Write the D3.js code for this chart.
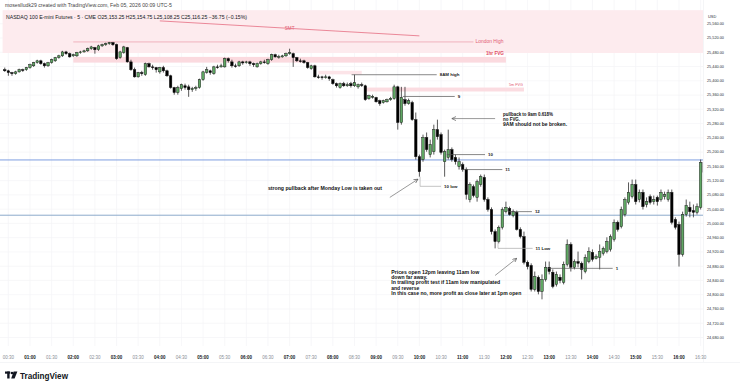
<!DOCTYPE html>
<html>
<head>
<meta charset="utf-8">
<script src="https://cdn.jsdelivr.net/npm/d3@7"></script>
<style>
  html, body { margin: 0; padding: 0; background: #fff; }
  svg { display: block; font-family: "Liberation Sans", Arial, sans-serif; }
</style>
</head>
<body>
<svg id="chart" width="740" height="386"></svg>
<script>
// NQ 5 minute bars, first bar opens 00:25
var firstBar = "00:25";
var barMinutes = 5;

var opens = [25431,25428,25423,25420,25425,25431,25431,25437,25442,25451,25456,25448,25442,25451,25456,25465,25470,25481,25476,25470,
  25470,25479,25481,25484,25490,25493,25487,25498,25501,25504,25507,25501,25465,25479,25493,25453,25431,25411,25423,25417,
  25448,25439,25437,25425,25437,25428,25414,25381,25367,25378,25386,25383,25375,25378,25381,25403,25423,25428,25420,25439,
  25439,25439,25462,25453,25442,25442,25453,25451,25453,25448,25439,25448,25453,25448,25459,25473,25467,25467,25470,25476,
  25476,25465,25456,25456,25451,25434,25442,25411,25411,25409,25411,25403,25392,25381,25392,25386,25392,25386,25383,25389,
  25386,25350,25355,25353,25344,25339,25341,25347,25350,25383,25283,25347,25336,25339,25291,25187,25179,25241,25193,25201,
  25263,25249,25173,25185,25207,25185,25159,25165,25151,25067,25103,25073,25109,25129,25067,25039,24977,24949,24989,25033,
  25042,25022,25031,24983,24963,24891,24882,24815,24849,24809,24843,24877,24863,24829,24849,24835,24885,24941,24877,24893,
  24888,24865,24893,24919,24902,24905,24916,24921,24927,24955,25003,24991,25025,25059,25075,25109,25067,25087,25053,25075,
  25061,25073,25067,25075,25067,25087,25011,24997,24913,25025,25045,25036,25031,25045,25171];
var highs = [25437,25431,25425,25428,25434,25434,25439,25448,25453,25459,25459,25451,25453,25462,25467,25473,25484,25484,25479,25476,
  25481,25484,25487,25493,25498,25495,25501,25504,25507,25509,25509,25504,25484,25498,25495,25459,25437,25425,25428,25451,
  25451,25445,25439,25439,25442,25431,25417,25383,25386,25392,25392,25389,25383,25386,25406,25428,25439,25431,25442,25445,
  25448,25465,25465,25459,25448,25456,25456,25456,25456,25451,25451,25456,25459,25462,25476,25476,25473,25473,25479,25490,
  25479,25467,25462,25459,25453,25445,25445,25417,25414,25417,25414,25406,25395,25395,25397,25395,25397,25417,25392,25395,
  25389,25361,25361,25355,25347,25347,25350,25355,25389,25386,25383,25383,25350,25344,25311,25193,25249,25255,25235,25277,
  25291,25255,25207,25263,25213,25193,25185,25171,25157,25115,25109,25123,25137,25137,25073,25045,24983,24994,25045,25061,
  25047,25039,25036,24989,24977,24896,24888,24865,24854,24857,24893,24893,24871,24865,24857,24893,24955,24947,24899,24921,
  24893,24913,24933,24927,24913,24941,24935,24961,24969,25011,25008,25047,25073,25115,25123,25123,25095,25095,25073,25081,
  25078,25078,25095,25089,25095,25095,25017,25005,25033,25067,25061,25053,25056,25179,25179];
var lows = [25425,25414,25414,25417,25423,25425,25428,25434,25439,25448,25445,25437,25439,25448,25453,25462,25467,25473,25465,25467,
  25467,25476,25479,25481,25487,25476,25484,25495,25498,25501,25498,25459,25462,25476,25451,25428,25409,25409,25414,25414,
  25437,25431,25423,25420,25423,25411,25378,25361,25361,25372,25375,25355,25369,25372,25378,25400,25420,25417,25417,25434,
  25437,25437,25451,25437,25437,25439,25445,25448,25442,25439,25437,25445,25448,25445,25456,25465,25462,25465,25467,25473,
  25439,25453,25451,25448,25434,25431,25409,25406,25403,25406,25400,25389,25381,25378,25383,25383,25381,25383,25378,25383,
  25344,25347,25350,25339,25330,25336,25339,25344,25347,25263,25277,25330,25333,25288,25179,25131,25173,25201,25185,25193,
  25235,25193,25131,25179,25173,25165,25151,25145,25067,25059,25073,25061,25103,25061,25033,24969,24930,24944,24983,25028,
  25022,25017,24980,24958,24885,24871,24809,24809,24801,24787,24837,24857,24818,24823,24832,24829,24879,24865,24871,24877,
  24843,24860,24888,24893,24899,24871,24910,24916,24921,24949,24977,24986,25019,25053,25070,25053,25059,25039,25045,25053,
  25053,25050,25061,25067,25061,24997,24983,24879,24907,25019,25017,25017,25025,25039,25137];
var closes = [25428,25423,25420,25425,25431,25430,25437,25445,25451,25456,25448,25442,25451,25459,25465,25470,25481,25476,25467,25473,
  25479,25481,25484,25490,25495,25487,25498,25501,25504,25507,25501,25462,25481,25495,25453,25431,25411,25423,25420,25448,
  25439,25437,25431,25437,25428,25414,25381,25367,25381,25389,25381,25375,25378,25381,25403,25425,25431,25423,25439,25438,
  25442,25462,25456,25442,25441,25453,25450,25453,25448,25445,25448,25453,25452,25459,25473,25467,25468,25470,25476,25479,
  25465,25456,25455,25451,25437,25442,25411,25410,25409,25411,25406,25392,25386,25392,25386,25389,25386,25395,25389,25388,
  25347,25358,25356,25341,25336,25344,25347,25350,25383,25283,25353,25336,25344,25291,25187,25145,25241,25207,25221,25263,
  25243,25199,25201,25207,25179,25173,25173,25151,25081,25109,25078,25117,25131,25067,25039,24977,24949,24989,25039,25045,
  25025,25033,24983,24963,24891,24879,24815,24851,24809,24843,24877,24865,24823,24857,24840,24885,24941,24877,24893,24888,
  24871,24905,24921,24899,24907,24921,24930,24949,24963,25003,24983,25039,25067,25087,25109,25061,25087,25047,25061,25059,
  25067,25061,25087,25081,25087,25003,24989,24913,25025,25050,25033,25031,25047,25171,25143];

var timeTicks = ["00:30","01:00","01:30","02:00","02:30","03:00","03:30","04:00","04:30","05:00","05:30","06:00",
  "06:30","07:00","07:30","08:00","08:30","09:00","09:30","10:00","10:30","11:00","11:30","12:00","12:30","13:00",
  "13:30","14:00","14:30","15:00","15:30","16:00","16:30"];
var priceTicks = [24680,24720,24760,24800,24840,24880,24920,24960,25000,25040,25080,25120,25160,25200,25240,
  25280,25320,25360,25400,25440,25480,25520,25560];

// drawn zones (pink boxes)
var zones = [
  {from: "00:22", to: "17:00", top: 25598, bottom: 25478, fill: "#fdebee"},
  {from: "02:00", to: "12:00", top: 25467, bottom: 25451, fill: "#fbdadf"},
  {from: "07:40", to: "08:40", top: 25428, bottom: 25418, fill: "#fce4e8"},
  {from: "08:45", to: "12:25", top: 25381, bottom: 25370, fill: "#fbdce1"}
];
var hLines = [
  {price: 25178, color: "#6f94dd"},
  {price: 25023, color: "#7f9fc4"}
];
var levels = [
  {label: "8AM high", price: 25417, from: "08:26", to: "10:24", color: "#555"},
  {label: "9", price: 25356, from: "09:37", to: "10:49", color: "#555"},
  {label: "10", price: 25193, from: "10:38", to: "11:31", color: "#555"},
  {label: "11", price: 25151, from: "10:59", to: "11:55", color: "#555"},
  {label: "12", price: 25033, from: "12:03", to: "12:36", color: "#555"},
  {label: "1", price: 24874, from: "12:58", to: "14:28", color: "#555"},
  {label: "10 low", price: 25104, from: "10:01", to: "10:30", color: "#aaa", stem: 25131},
  {label: "11 Low", price: 24930, from: "11:49", to: "12:37", color: "#aaa", stem: 24949}
];
var arrows = [
  {from: ["09:19", 25073], to: ["09:58", 25124]},
  {from: ["11:45", 25294], to: ["10:45", 25294]},
  {from: ["11:45", 24854], to: ["12:15", 24902]}
];
var notes = [
  {at: ["06:30", 25098], lines: ["strong pullback after Monday Low is taken out"], widths: [114]},
  {at: ["11:56", 25307], lines: ["pullback to 9am 0.618%", "no FVG.", "9AM should not be broken."], widths: [50, 17, 64]},
  {at: ["09:21", 24862], lines: ["Prices open 12pm leaving 11am low", "down far away.",
    "In trailing profit test if 11am low manipulated", "and reverse",
    "In this case no, more profit as close later at 1pm open"], widths: [88, 36, 109, 28, 130]}
];

var W = 740, H = 386;
var plotRight = 703, plotBottom = 346;

function toMin(s) {
  var p = s.split(":");
  return +p[0] * 60 + +p[1];
}

var x = d3.scaleLinear().domain([60, 960]).range([30, 679]);
var y = d3.scaleLinear().domain([24680, 25520]).range([337.5, 38]);

var svg = d3.select("#chart");
svg.append("rect").attr("width", W).attr("height", H).attr("fill", "#fff");

var defs = svg.append("defs");
defs.append("clipPath").attr("id", "plotClip")
  .append("rect").attr("x", 0).attr("y", 0).attr("width", plotRight).attr("height", plotBottom);
defs.append("marker").attr("id", "head")
  .attr("viewBox", "0 0 6 6").attr("refX", 5.5).attr("refY", 3)
  .attr("markerWidth", 4.5).attr("markerHeight", 4.5)
  .attr("markerUnits", "userSpaceOnUse").attr("orient", "auto")
  .append("path").attr("d", "M0,0.3 L5.5,3 L0,5.7")
  .attr("fill", "none").attr("stroke", "#555").attr("stroke-width", 0.9);

var g = svg.append("g").attr("clip-path", "url(#plotClip)");

// grid
g.selectAll(".vgrid").data(timeTicks).enter().append("line")
  .attr("x1", function(d) { return x(toMin(d)); })
  .attr("x2", function(d) { return x(toMin(d)); })
  .attr("y1", 0).attr("y2", plotBottom)
  .attr("stroke", "#f3f4f6").attr("stroke-width", 0.7);
g.selectAll(".hgrid").data(priceTicks).enter().append("line")
  .attr("x1", 0).attr("x2", plotRight)
  .attr("y1", function(d) { return y(d); })
  .attr("y2", function(d) { return y(d); })
  .attr("stroke", "#f3f4f6").attr("stroke-width", 0.7);

// zones
g.selectAll(".zone").data(zones).enter().append("rect")
  .attr("x", function(d) { return x(toMin(d.from)); })
  .attr("width", function(d) { return x(toMin(d.to)) - x(toMin(d.from)); })
  .attr("y", function(d) { return y(d.top); })
  .attr("height", function(d) { return y(d.bottom) - y(d.top); })
  .attr("fill", function(d) { return d.fill; });

// london high + SMT
var pink = "#e25c73";
g.append("line")
  .attr("x1", x(toMin("02:00"))).attr("x2", x(toMin("11:15")))
  .attr("y1", y(25509)).attr("y2", y(25509))
  .attr("stroke", "#eb9aa7").attr("stroke-width", 0.7);
g.append("text").attr("x", x(toMin("11:15")) + 2).attr("y", y(25509) + 1.5)
  .attr("font-size", 4.6).attr("fill", pink).attr("textLength", 28).attr("lengthAdjust", "spacingAndGlyphs")
  .text("London High");
g.append("text").attr("x", x(toMin("12:00")) - 2).attr("y", y(25478) + 2.3)
  .attr("text-anchor", "end").attr("font-size", 4.8).attr("font-weight", "bold").attr("fill", "#de4a62")
  .attr("textLength", 18).attr("lengthAdjust", "spacingAndGlyphs")
  .text("1hr FVG");
g.append("text").attr("x", x(toMin("12:25")) - 1).attr("y", y(25381) - 1.3)
  .attr("text-anchor", "end").attr("font-size", 3.6).attr("fill", pink)
  .attr("textLength", 14).attr("lengthAdjust", "spacingAndGlyphs")
  .text("5m FVG");
g.append("line")
  .attr("x1", x(toMin("04:00"))).attr("y1", y(25568))
  .attr("x2", x(toMin("10:00"))).attr("y2", y(25526))
  .attr("stroke", pink).attr("stroke-width", 0.7);
g.append("text").attr("x", x(toMin("07:00"))).attr("y", y(25547) + 1.8)
  .attr("text-anchor", "middle").attr("font-size", 4.6).attr("fill", pink)
  .text("SMT");

// blue horizontal lines
g.selectAll(".hline").data(hLines).enter().append("line")
  .attr("x1", 0).attr("x2", plotRight)
  .attr("y1", function(d) { return y(d.price); })
  .attr("y2", function(d) { return y(d.price); })
  .attr("stroke", function(d) { return d.color; }).attr("stroke-width", 0.9);

// candles
var bars = opens.map(function(o, i) {
  return {t: toMin(firstBar) + i * barMinutes, o: o, h: highs[i], l: lows[i], c: closes[i]};
});
var bodyW = 2.5;
var candle = g.selectAll(".candle").data(bars).enter().append("g");
candle.append("line")
  .attr("x1", function(d) { return x(d.t); })
  .attr("x2", function(d) { return x(d.t); })
  .attr("y1", function(d) { return y(d.h); })
  .attr("y2", function(d) { return y(d.l); })
  .attr("stroke", "#111").attr("stroke-width", 0.7);
candle.append("rect")
  .attr("x", function(d) { return x(d.t) - bodyW / 2; })
  .attr("width", bodyW)
  .attr("y", function(d) { return y(Math.max(d.o, d.c)); })
  .attr("height", function(d) { return Math.max(0.8, Math.abs(y(d.o) - y(d.c))); })
  .attr("fill", function(d) { return d.c >= d.o ? "#5fa763" : "#000"; })
  .attr("stroke", "#111").attr("stroke-width", 0.45);

// level lines
var lv = g.selectAll(".level").data(levels).enter().append("g");
lv.append("line")
  .attr("x1", function(d) { return x(toMin(d.from)); })
  .attr("x2", function(d) { return x(toMin(d.to)); })
  .attr("y1", function(d) { return y(d.price); })
  .attr("y2", function(d) { return y(d.price); })
  .attr("stroke", function(d) { return d.color; }).attr("stroke-width", 0.7);
lv.filter(function(d) { return d.stem; }).append("line")
  .attr("x1", function(d) { return x(toMin(d.from)); })
  .attr("x2", function(d) { return x(toMin(d.from)); })
  .attr("y1", function(d) { return y(d.stem); })
  .attr("y2", function(d) { return y(d.price); })
  .attr("stroke", function(d) { return d.color; }).attr("stroke-width", 0.6);
lv.append("text")
  .attr("x", function(d) { return x(toMin(d.to)) + 3; })
  .attr("y", function(d) { return y(d.price) + 1.5; })
  .attr("font-size", 4.4).attr("font-weight", "bold").attr("fill", "#222")
  .text(function(d) { return d.label; });

// arrows
g.selectAll(".arrow").data(arrows).enter().append("line")
  .attr("x1", function(d) { return x(toMin(d.from[0])); })
  .attr("y1", function(d) { return y(d.from[1]); })
  .attr("x2", function(d) { return x(toMin(d.to[0])); })
  .attr("y2", function(d) { return y(d.to[1]); })
  .attr("stroke", "#555").attr("stroke-width", 0.6)
  .attr("marker-end", "url(#head)");

// notes
notes.forEach(function(n) {
  n.lines.forEach(function(line, k) {
    g.append("text")
      .attr("x", x(toMin(n.at[0])))
      .attr("y", y(n.at[1]) + 1.6 + k * 5.1)
      .attr("font-size", 4.7).attr("font-weight", "bold").attr("fill", "#111")
      .attr("textLength", n.widths[k]).attr("lengthAdjust", "spacingAndGlyphs")
      .text(line);
  });
});

// right price axis
svg.selectAll(".plabel").data(priceTicks).enter().append("text")
  .attr("x", 707).attr("y", function(d) { return y(d) + 1.4; })
  .attr("font-size", 3.8).attr("fill", "#2a2e39")
  .text(function(d) { return d3.format(",.2f")(d); });
svg.append("rect").attr("x", plotRight).attr("y", 0).attr("width", W - plotRight).attr("height", 21.5).attr("fill", "#fff");
svg.append("text").attr("x", 708).attr("y", 18.2).attr("font-size", 3.9).attr("fill", "#2a2e39").text("USD");
svg.append("line").attr("x1", plotRight + 0.5).attr("x2", plotRight + 0.5).attr("y1", 0).attr("y2", 362)
  .attr("stroke", "#eceef2").attr("stroke-width", 0.6);

// time axis
defs.append("clipPath").attr("id", "timeClip")
  .append("rect").attr("x", 0).attr("y", 346).attr("width", 708).attr("height", 20);
var tl = svg.append("g").attr("clip-path", "url(#timeClip)");
tl.selectAll(".tlabel").data(timeTicks).enter().append("text")
  .attr("x", function(d) { return x(toMin(d)); })
  .attr("y", 358.6)
  .attr("text-anchor", "middle")
  .attr("font-size", 4.5)
  .attr("font-weight", function(d) { return d.slice(3) === "00" ? "bold" : "normal"; })
  .attr("fill", function(d) { return d.slice(3) === "00" ? "#131722" : "#8a8e96"; })
  .text(function(d) { return d; });
svg.append("line").attr("x1", 0).attr("x2", W).attr("y1", 362.5).attr("y2", 362.5)
  .attr("stroke", "#eceef2").attr("stroke-width", 0.6);

// header
svg.append("text").attr("x", 5).attr("y", 6.6).attr("font-size", 4.9).attr("fill", "#444")
  .attr("textLength", 167).attr("lengthAdjust", "spacingAndGlyphs")
  .text("moseslludk29 created with TradingView.com, Feb 05, 2026 00:09 UTC-5");
svg.append("text").attr("x", 6).attr("y", 18.6).attr("font-size", 4.8).attr("fill", "#131722")
  .attr("textLength", 241).attr("lengthAdjust", "spacingAndGlyphs")
  .text("NASDAQ 100 E-mini Futures \u00b7 5 \u00b7 CME   O25,153.25  H25,154.75  L25,108.25  C25,116.25  \u221236.75 (\u22120.15%)");

// tradingview logo
var logo = svg.append("g").attr("fill", "#131722");
logo.append("rect").attr("x", 5).attr("y", 371.5).attr("width", 5.2).attr("height", 2.2);
logo.append("rect").attr("x", 7.2).attr("y", 371.5).attr("width", 2.4).attr("height", 7);
logo.append("circle").attr("cx", 12).attr("cy", 373).attr("r", 1.3);
logo.append("path").attr("d", "M13.6,371.5 L17.4,371.5 L14.6,378.5 L11.2,378.5 Z");
svg.append("text").attr("x", 20).attr("y", 378.6).attr("font-size", 8.4).attr("font-weight", "bold")
  .attr("fill", "#131722").attr("textLength", 48).attr("lengthAdjust", "spacingAndGlyphs")
  .text("TradingView");
</script>
</body>
</html>
